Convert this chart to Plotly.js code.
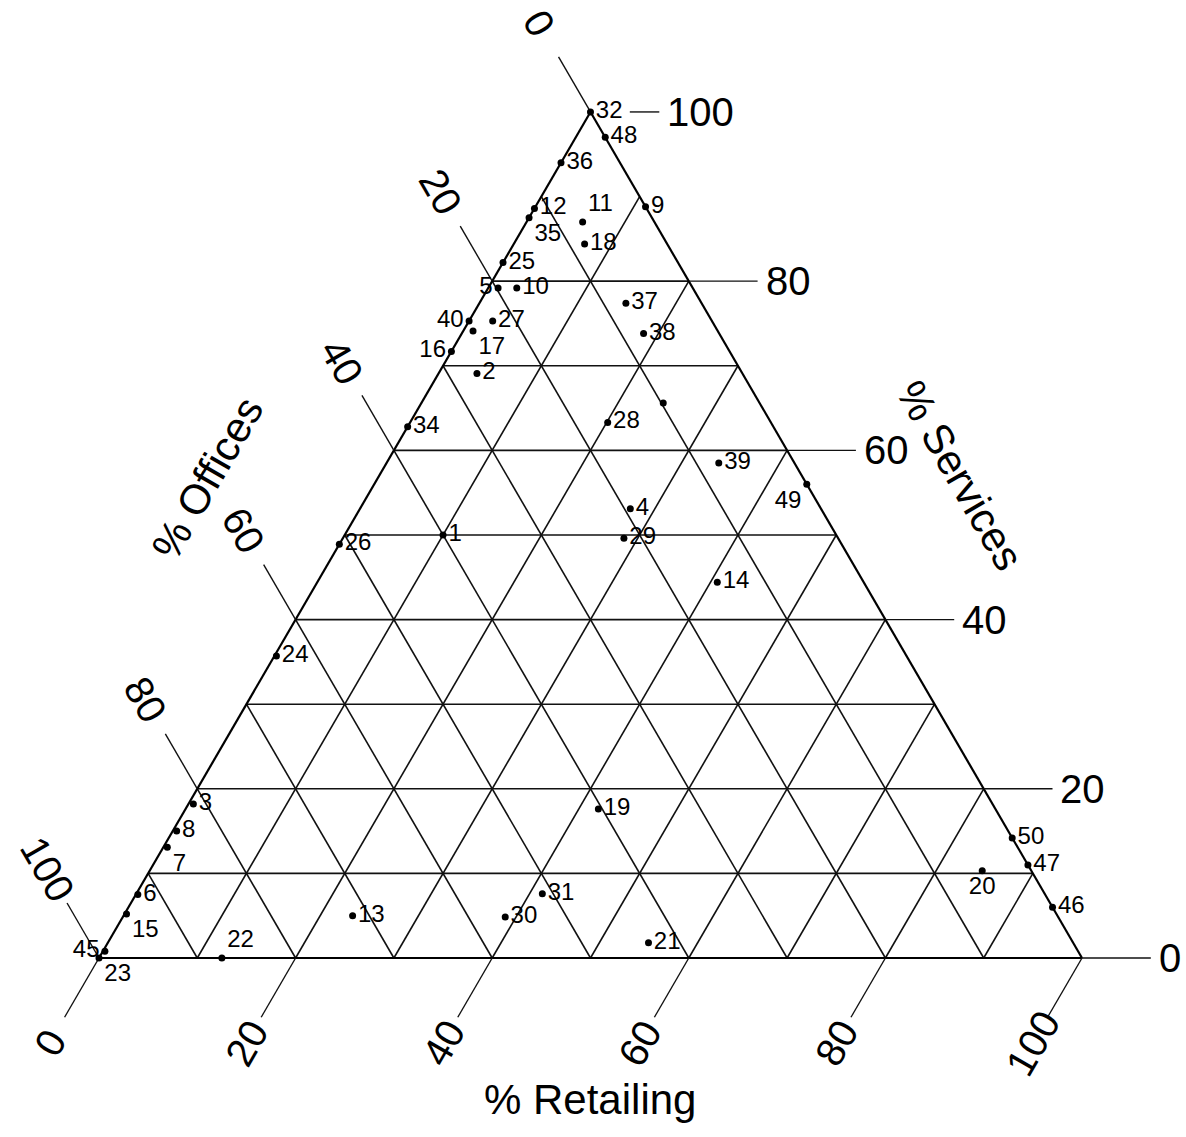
<!DOCTYPE html>
<html>
<head>
<meta charset="utf-8">
<script src="https://cdn.plot.ly/plotly-3.0.1.min.js"></script>
<style>
    html, body { margin: 0; padding: 0; background: #ffffff; }
    #ternaryChart { width: 1186px; height: 1137px; }
</style>
</head>
<body>
<div id="ternaryChart"></div>
<script>
// Ternary diagram: % Services (top), % Offices (bottom left), % Retailing (bottom right)
// Values

const districts = ['32', '48', '36', '12', '35', '11', '18', '9', '25', '5',
                   '10', '40', '27', '17', '16', '2', '37', '38', '34', '28',
                   '', '26', '1', '39', '49', '4', '29', '14', '24', '3',
                   '8', '7', '6', '15', '45', '23', '22', '13', '19', '31',
                   '30', '21', '50', '47', '20', '46'];

const services = [100, 97, 94, 88.6, 87.5, 87, 84.4, 88.8, 82.2, 79.2,
                  79.2, 75.3, 75.3, 74.1, 71.7, 69.1, 77.4, 73.8, 62.8, 63.3,
                  65.6, 48.9, 50, 58.5, 56, 53.1, 49.6, 44.4, 35.7, 18.2,
                  15, 13.1, 7.5, 5.2, 0.8, 0, 0, 5, 17.6, 7.6,
                  4.85, 1.8, 14.2, 11, 10.3, 6];

const retailing = [0, 3, 0, 0, 0, 5.7, 7.2, 11.2, 0, 1,
                   2.9, 0, 2.4, 1, 0, 3.9, 14.9, 18.5, 0, 20.1,
                   24.6, 0, 10, 33.8, 44, 27.5, 28.6, 40.7, 0.2, 0.5,
                   0.4, 0.4, 0.2, 0.2, 0.2, 0, 12.5, 23.3, 42, 41.3,
                   38.9, 55, 85.8, 89, 84.7, 94];

const offices = [0, 0, 6, 11.4, 12.5, 7.3, 8.4, 0, 17.8, 19.8,
                 17.9, 24.7, 22.3, 24.9, 28.3, 27, 7.7, 7.7, 37.2, 16.6,
                 9.8, 51.1, 40, 7.7, 0, 19.4, 21.8, 14.9, 64.1, 81.3,
                 84.6, 86.5, 92.3, 94.6, 99, 100, 87.5, 71.7, 40.4, 51.1,
                 56.25, 43.2, 0, 0, 5, 0];

const gridValues = [0, 10, 20, 30, 40, 50, 60, 70, 80, 90, 100];
const servicesGridValues = [10, 20, 30, 40, 50, 60, 70, 80];   // no 90 line in the original
const tickValues = [0, 20, 40, 60, 80, 100];

// label placement next to the dots (most sit on the right)
const labelPositions = {
    '5': 'middle left', '40': 'middle left', '16': 'middle left', '45': 'middle left',
    '17': 'bottom right', '35': 'bottom right', '23': 'bottom right', '7': 'bottom right',
    '15': 'bottom right', '11': 'top right', '22': 'top right', '20': 'bottom center',
    '49': 'bottom left'
};

const H = Math.sqrt(3) / 2;
const FONT = 'Liberation Sans, Arial, sans-serif';

// ternary (services, retailing) -> cartesian
function toX(s, r) { return r + s / 2; }
function toY(s) { return s * H; }

function segment(xs, ys, s1, r1, s2, r2) {
    xs.push(toX(s1, r1), toX(s2, r2), null);
    ys.push(toY(s1), toY(s2), null);
}

function buildGrid() {
    const gx = [], gy = [];
    // constant services (horizontal)
    servicesGridValues.forEach(v => segment(gx, gy, v, 0, v, 100 - v));
    gridValues.forEach(v => {
        if (v === 0 || v === 100) return;
        // constant retailing
        segment(gx, gy, 0, v, 100 - v, v);
        // constant offices
        segment(gx, gy, 0, 100 - v, 100 - v, 0);
    });
    return { x: gx, y: gy };
}

function buildEdges() {
    const ex = [], ey = [];
    segment(ex, ey, 0, 0, 0, 100);
    segment(ex, ey, 0, 100, 100, 0);
    segment(ex, ey, 100, 0, 0, 0);
    return { x: ex, y: ey };
}

function buildTickLines() {
    const tx = [], ty = [];
    tickValues.forEach(v => {
        // services: horizontal line out of the right edge
        const xr = toX(v, 100 - v);
        tx.push(xr + (v === 100 ? 4 : 0), xr + 7, null);
        ty.push(toY(v), toY(v), null);
        // offices: continue the constant-offices line past the left edge
        segment(tx, ty, 100 - v, 0, 100 - v + 6.5, -6.5);
        // retailing: continue the constant-retailing line below the base
        segment(tx, ty, 0, v, -7, v);
    });
    return { x: tx, y: ty };
}

function buildAnnotations() {
    const ann = [];
    const base = { xref: 'x', yref: 'y', showarrow: false, font: { family: FONT, size: 40, color: '#000' } };
    tickValues.forEach(v => {
        ann.push(Object.assign({}, base, {
            x: toX(v, 100 - v) + 7.6, y: toY(v), text: String(v), xanchor: 'left', yanchor: 'middle'
        }));
        ann.push(Object.assign({}, base, {
            x: toX(100 - v + 10.5, -10.5), y: toY(100 - v + 10.5), text: String(v), textangle: 60
        }));
        ann.push(Object.assign({}, base, {
            x: toX(-10, v), y: toY(-10), text: String(v), textangle: -60
        }));
    });
    const titleFont = { family: FONT, size: 42, color: '#000' };
    ann.push(Object.assign({}, base, { x: 11, y: 49.1, text: '% Offices', textangle: -60, font: titleFont }));
    ann.push(Object.assign({}, base, { x: 87.6, y: 49.4, text: '% Services', textangle: 60, font: titleFont }));
    ann.push(Object.assign({}, base, { x: 50, y: -14.5, text: '% Retailing', font: titleFont }));
    return ann;
}

function drawChart() {
    const grid = buildGrid();
    const edges = buildEdges();
    const ticks = buildTickLines();

    const gridTrace = {
        x: grid.x, y: grid.y, type: 'scatter', mode: 'lines',
        line: { color: '#111', width: 1.6 }, hoverinfo: 'skip'
    };
    const edgeTrace = {
        x: edges.x, y: edges.y, type: 'scatter', mode: 'lines',
        line: { color: '#000', width: 2.2 }, hoverinfo: 'skip'
    };
    const tickTrace = {
        x: ticks.x, y: ticks.y, type: 'scatter', mode: 'lines',
        line: { color: '#111', width: 1.4 }, hoverinfo: 'skip'
    };
    const pointTrace = {
        x: services.map((s, i) => toX(s, retailing[i])),
        y: services.map(s => toY(s)),
        text: districts,
        customdata: offices,
        type: 'scatter',
        mode: 'markers+text',
        marker: { color: '#000', size: 7 },
        textposition: districts.map(d => labelPositions[d] || 'middle right'),
        textfont: { family: FONT, size: 24, color: '#000' },
        hovertemplate: '%{text}<br>Offices %{customdata}%<extra></extra>'
    };

    const layout = {
        width: 1186,
        height: 1137,
        margin: { l: 0, r: 0, t: 0, b: 0 },
        paper_bgcolor: '#ffffff',
        plot_bgcolor: '#ffffff',
        showlegend: false,
        xaxis: { range: [-10.07, 110.58], visible: false, fixedrange: true },
        yaxis: { range: [-18.32, 98.06], visible: false, fixedrange: true },
        annotations: buildAnnotations()
    };

    Plotly.newPlot('ternaryChart', [gridTrace, edgeTrace, tickTrace, pointTrace], layout, { displayModeBar: false, staticPlot: true });
}

drawChart();
</script>
</body>
</html>
